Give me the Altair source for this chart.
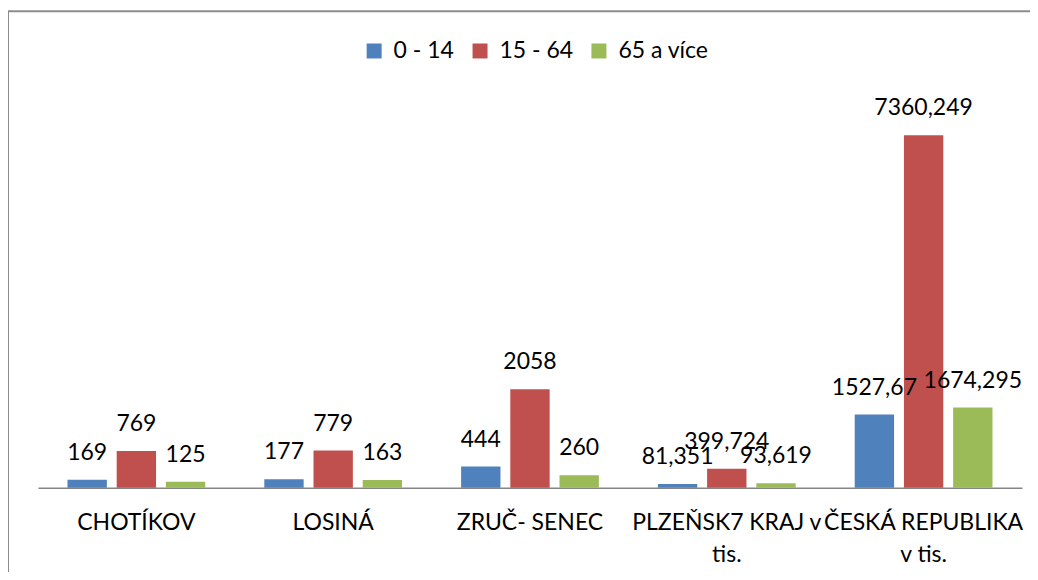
import altair as alt
import pandas as pd

categories = ["CHOTÍKOV", "LOSINÁ", "ZRUČ- SENEC", "PLZEŇSK7 KRAJ v\ntis.", "ČESKÁ REPUBLIKA\nv tis."]
series = ["0 - 14", "15 - 64", "65 a více"]
values_0_14 = [169, 177, 444, 81.351, 1527.67]
values_15_64 = [769, 779, 2058, 399.724, 7360.249]
values_65 = [125, 163, 260, 93.619, 1674.295]
labels_0_14 = ["169", "177", "444", "81,351", "1527,67"]
labels_15_64 = ["769", "779", "2058", "399,724", "7360,249"]
labels_65 = ["125", "163", "260", "93,619", "1674,295"]
colors = ["#4F81BD", "#C0504D", "#9BBB59"]

rows = []
for s, vals, labs in zip(series, [values_0_14, values_15_64, values_65], [labels_0_14, labels_15_64, labels_65]):
    for c, v, l in zip(categories, vals, labs):
        rows.append({"kategorie": c, "skupina": s, "hodnota": v, "popisek": l})
df = pd.DataFrame(rows)

FONT = "Lato"

x = alt.X("kategorie:N", sort=categories, title=None,
          scale=alt.Scale(paddingInner=0, paddingOuter=0),
          axis=alt.Axis(labelExpr="split(datum.label, '\\n')", labelAngle=0,
                        labelFontSize=23, labelFont=FONT, labelColor="#000000",
                        labelLineHeight=32, labelPadding=24, ticks=False, labelLimit=0,
                        domainColor="#868686", domainWidth=1.5, labelBaseline="top"))
xo = alt.XOffset("skupina:N", sort=series,
                 scale=alt.Scale(paddingInner=0.2, paddingOuter=0.6))
y = alt.Y("hodnota:Q", title=None, scale=alt.Scale(domain=[0, 8340], nice=False, zero=True),
          axis=None)

base = alt.Chart(df)

bars = base.mark_bar().encode(
    x=x, xOffset=xo, y=y,
    color=alt.Color("skupina:N", sort=series, title=None,
                    scale=alt.Scale(domain=series, range=colors),
                    legend=alt.Legend(orient="none", legendX=325, legendY=-49,
                                      direction="horizontal", symbolType="square",
                                      symbolSize=225, symbolStrokeWidth=0,
                                      labelFontSize=23, labelFont=FONT, labelColor="#000000",
                                      labelOffset=8, columnPadding=14)),
)

text = base.mark_text(fontSize=23, font=FONT, color="#000000", baseline="middle", dy=-27).encode(
    x=x, xOffset=xo, y=y, text="popisek:N"
)

frame = pd.DataFrame({"a": [0]})
left_line = alt.Chart(frame).mark_rule(color="#8c8c8c", strokeWidth=2).encode(
    x=alt.value(-30), y=alt.value(-77), y2=alt.value(600)
)
top_line = alt.Chart(frame).mark_rule(color="#8c8c8c", strokeWidth=2).encode(
    x=alt.value(-31), x2=alt.value(1100), y=alt.value(-77)
)

chart = alt.layer(left_line, top_line, bars, text).properties(
    width=985, height=400,
    padding={"left": 30, "top": 80, "right": 8, "bottom": 84},
    autosize=alt.AutoSizeParams(type="none"),
).configure(background="white").configure_view(strokeWidth=0, stroke="transparent")

chart.save("out.html", embed_options={"renderer": "svg", "actions": False})
